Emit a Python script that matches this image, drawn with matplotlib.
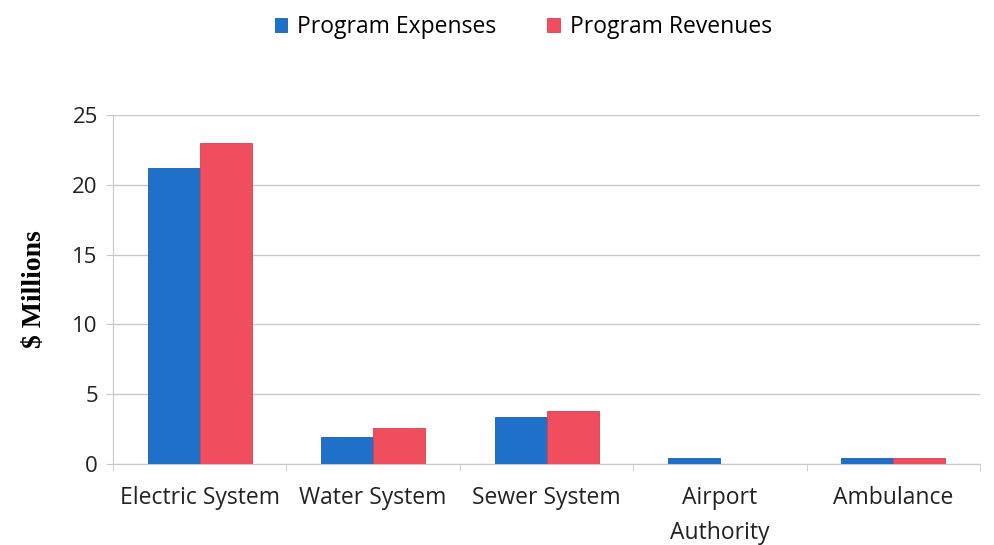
import matplotlib
matplotlib.use("Agg")
import matplotlib.pyplot as plt
import numpy as np

categories = ["Electric System", "Water System", "Sewer System", "Airport\nAuthority", "Ambulance"]
expenses = [21.2, 1.95, 3.4, 0.45, 0.45]
revenues = [23.0, 2.6, 3.8, 0.0, 0.45]
yticks = [0, 5, 10, 15, 20, 25]

BLUE = "#1f70c8"
RED = "#f04e5e"
GRID = "#c8c8c8"
FS = 16.5

plt.rcParams["font.family"] = ["Open Sans", "DejaVu Sans"]

fig = plt.figure(figsize=(9.95, 5.45), dpi=100)
ax = fig.add_axes([0.1136, 0.1486, 0.8714, 0.6404])

x = np.arange(len(categories))
w = 0.3
ax.bar(x - w / 2, expenses, w, color=BLUE, edgecolor="#1a5ea8", lw=0.6,
       label="Program Expenses", zorder=3)
ax.bar(x + w / 2, revenues, w, color=RED, edgecolor="#d8404f", lw=0.6,
       label="Program Revenues", zorder=3)

ax.set_xlim(-0.5, len(categories) - 0.5)
ax.set_ylim(0, 25)
ax.set_yticks(yticks)
ax.yaxis.grid(True, color=GRID, lw=1.0, zorder=0)
ax.tick_params(axis="y", length=5, color=GRID, labelsize=16, labelcolor="#222222", pad=6)

# category labels centered, ticks on group boundaries
ax.set_xticks(x)
ax.set_xticklabels(categories, fontsize=FS, color="#222222", linespacing=1.6)
ax.tick_params(axis="x", length=0, pad=16)
ax.set_xticks(np.arange(len(categories) + 1) - 0.5, minor=True)
ax.tick_params(axis="x", which="minor", length=5, color=GRID)

for s in ["top", "right"]:
    ax.spines[s].set_visible(False)
for s in ["left", "bottom"]:
    ax.spines[s].set_color(GRID)

ax.set_ylabel("$ Millions", fontsize=20, fontweight="bold",
              family=["Liberation Serif", "DejaVu Serif"], labelpad=18)

fig.legend(loc="upper center", bbox_to_anchor=(0.526, 1.01), ncol=2, frameon=False,
           fontsize=FS, handlelength=0.55, handleheight=0.55, handletextpad=0.45,
           columnspacing=2.2)

fig.savefig("out.png", dpi=100)
